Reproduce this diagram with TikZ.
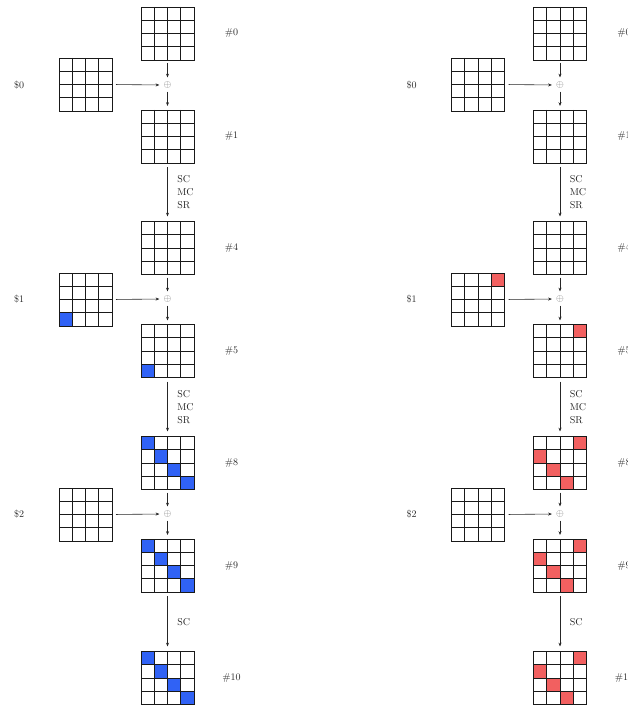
\documentclass[tikz,border=0pt]{standalone}
\usetikzlibrary{calc,arrows.meta}
\definecolor{hlblue}{RGB}{48,98,245}
\definecolor{hlred}{RGB}{242,96,96}
\tikzset{
  gridbox/.style={rectangle, minimum width=53pt, minimum height=53pt, inner sep=0pt, outer sep=0pt},
  gridline/.style={line width=0.9pt, black!90},
  flow/.style={-{Stealth[length=3.8pt,width=3pt]}, line width=0.6pt, black!85},
  xornode/.style={text=black!55, inner sep=2pt},
  tag/.style={inner sep=0pt, text=black!85},
  oplabel/.style={align=left, anchor=west, inner sep=0pt, text=black!85, xshift=9.5pt}
}
\newcommand{\cf}[2]{\fill[\curcolor] ($(\curname.north west)+(#2*13.25,#1*13.25)$) rectangle ++(13.25,13.25);}
\newcommand{\sgrid}[4]{%
  \def\curname{#1}%
  \node[gridbox] (#1) at (#2,#3) {};
  #4
  \foreach \i in {1,2,3}{
    \draw[gridline] ($(#1.north west)!\i/4!(#1.north east)$) -- ($(#1.south west)!\i/4!(#1.south east)$);
    \draw[gridline] ($(#1.north west)!\i/4!(#1.south west)$) -- ($(#1.north east)!\i/4!(#1.south east)$);
  }
  \draw[gridline] (#1.north west) rectangle (#1.south east);
}
\newcommand{\buildcol}[5]{%
  \def\curcolor{#3}%
  \sgrid{#1s0}{167.5+#2}{33.5}{}
  \sgrid{#1s1}{167.5+#2}{136.5}{}
  \sgrid{#1s4}{167.5+#2}{248}{}
  \sgrid{#1s5}{167.5+#2}{351}{#4}
  \sgrid{#1s8}{167.5+#2}{463}{#5}
  \sgrid{#1s9}{167.5+#2}{565.5}{#5}
  \sgrid{#1s10}{167.5+#2}{678}{#5}
  \sgrid{#1k0}{85.5+#2}{84.5}{}
  \sgrid{#1k1}{85.5+#2}{299.5}{#4}
  \sgrid{#1k2}{85.5+#2}{514.5}{}
  \node[xornode] (#1x0) at (167.5+#2,85) {$\oplus$};
  \node[xornode] (#1x1) at (167.5+#2,299) {$\oplus$};
  \node[xornode] (#1x2) at (167.5+#2,514) {$\oplus$};
  \node[tag] (#1t0) at (231.5+#2,33.5) {\#0};
  \node[tag] (#1t1) at (231.5+#2,136.5) {\#1};
  \node[tag] (#1t4) at (231.5+#2,248) {\#4};
  \node[tag] (#1t5) at (231.5+#2,351) {\#5};
  \node[tag] (#1t8) at (231.5+#2,463) {\#8};
  \node[tag] (#1t9) at (231.5+#2,565.5) {\#9};
  \node[tag] (#1t10) at (231.5+#2,678) {\#10};
  \node[tag] (#1d0) at (19+#2,85) {\$0};
  \node[tag] (#1d1) at (19+#2,299.5) {\$1};
  \node[tag] (#1d2) at (19+#2,514) {\$2};
  \draw[flow, shorten <=3pt, shorten >=2pt] (#1s0.south) -- (#1x0.north);
  \draw[flow, shorten <=4pt, shorten >=2pt] (#1k0.east) -- (#1x0.west);
  \draw[flow, shorten <=1pt, shorten >=4pt] (#1x0.south) -- (#1s1.north);
  \draw[flow, shorten <=3pt, shorten >=2pt] (#1s4.south) -- (#1x1.north);
  \draw[flow, shorten <=4pt, shorten >=2pt] (#1k1.east) -- (#1x1.west);
  \draw[flow, shorten <=1pt, shorten >=4pt] (#1x1.south) -- (#1s5.north);
  \draw[flow, shorten <=3pt, shorten >=2pt] (#1s8.south) -- (#1x2.north);
  \draw[flow, shorten <=4pt, shorten >=2pt] (#1k2.east) -- (#1x2.west);
  \draw[flow, shorten <=1pt, shorten >=4pt] (#1x2.south) -- (#1s9.north);
  \draw[flow, shorten <=4pt, shorten >=5pt] (#1s1.south) -- (#1s4.north)
    node[midway, oplabel] {SC\\[1pt]MC\\[1pt]SR};
  \draw[flow, shorten <=4pt, shorten >=5pt] (#1s5.south) -- (#1s8.north)
    node[midway, oplabel] {SC\\[1pt]MC\\[1pt]SR};
  \draw[flow, shorten <=4pt, shorten >=5pt] (#1s9.south) -- (#1s10.north)
    node[midway, oplabel] {SC};
}
\begin{document}
\begin{tikzpicture}[x=1pt,y=-1pt]
\useasboundingbox (0,0) rectangle (627,706);
\buildcol{L}{0}{hlblue}{\cf30}{\cf00\cf11\cf22\cf33}
\buildcol{R}{392.5}{hlred}{\cf03}{\cf03\cf10\cf21\cf32}
\end{tikzpicture}
\end{document}
